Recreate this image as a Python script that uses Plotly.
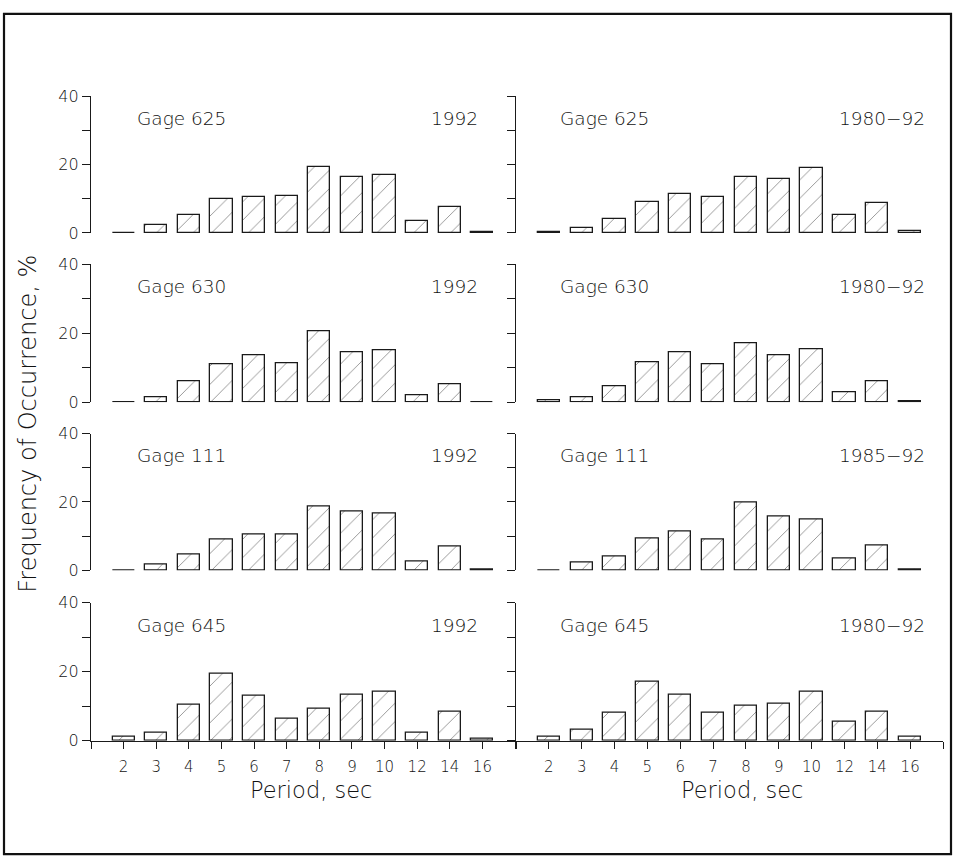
import plotly.graph_objects as go

# ---------------- data ----------------
periods = ['2', '3', '4', '5', '6', '7', '8', '9', '10', '12', '14', '16']
gages = ['Gage 625', 'Gage 630', 'Gage 111', 'Gage 645']
years_left = ['1992', '1992', '1992', '1992']
years_right = ['1980\u221292', '1980\u221292', '1985\u221292', '1980\u221292']

g625_1992 = [0.1, 2.2, 5.2, 9.8, 10.6, 10.7, 19.4, 16.2, 16.8, 3.6, 7.5, 0.3]
g625_8092 = [0.2, 1.5, 4.2, 9.0, 11.4, 10.4, 16.2, 15.9, 19.0, 5.1, 8.7, 0.6]
g630_1992 = [0.1, 1.3, 6.2, 11.0, 13.5, 11.4, 20.6, 14.6, 15.0, 2.1, 5.1, 0.05]
g630_8092 = [0.6, 1.4, 4.6, 11.5, 14.5, 11.1, 17.0, 13.7, 15.4, 2.9, 6.0, 0.2]
g111_1992 = [0.1, 1.6, 4.8, 8.9, 10.4, 10.6, 18.8, 17.2, 16.7, 2.6, 7.0, 0.2]
g111_8592 = [0.1, 2.2, 4.0, 9.2, 11.3, 8.9, 19.8, 15.8, 15.0, 3.4, 7.4, 0.2]
g645_1992 = [1.1, 2.3, 10.4, 19.5, 12.9, 6.4, 9.4, 13.3, 14.1, 2.3, 8.5, 0.6]
g645_8092 = [1.0, 3.1, 8.0, 17.2, 13.2, 8.0, 10.1, 10.7, 14.3, 5.5, 8.4, 1.0]

panels = [
    [g625_1992, g625_8092],
    [g630_1992, g630_8092],
    [g111_1992, g111_8592],
    [g645_1992, g645_8092],
]

yticks = [0, 10, 20, 30, 40]
ytext = ['0', '', '20', '', '40']

# ---------------- layout helpers ----------------
W, H = 953, 868
FONT = 'DejaVu Sans'
WEIGHT = 200
INK = '#1a1a1a'
TXT = '#111111'


def px_x(x):
    return x / W


def px_y(y):
    return 1 - y / H


def fnt(size):
    return dict(size=size, family=FONT, color=TXT, weight=WEIGHT)


rows_px = [(89, 229), (261, 402), (434, 574), (607, 748)]
cols_px = [(91, 515), (516, 943)]
idx = list(range(len(periods)))

fig = go.Figure()
layout = dict(
    width=W, height=H,
    margin=dict(l=0, r=0, t=0, b=0),
    paper_bgcolor='white', plot_bgcolor='white',
    showlegend=False,
    font=fnt(15),
    bargap=0,
)
annotations = []

for r in range(4):
    for c in range(2):
        n = r * 2 + c + 1
        xa = 'x' if n == 1 else f'x{n}'
        ya = 'y' if n == 1 else f'y{n}'
        fig.add_trace(go.Bar(
            x=idx, y=panels[r][c], xaxis=xa, yaxis=ya, width=0.68,
            marker=dict(
                color='white',
                line=dict(color=INK, width=1.3),
                pattern=dict(shape='/', fgcolor='#222222', bgcolor='white',
                             size=13, solidity=0.07),
            ),
            hoverinfo='skip',
        ))
        bottom = (r == 3)
        xkey = 'xaxis' if n == 1 else f'xaxis{n}'
        ykey = 'yaxis' if n == 1 else f'yaxis{n}'
        layout[xkey] = dict(
            domain=[px_x(cols_px[c][0]), px_x(cols_px[c][1])],
            anchor=ya, range=[-1, 12],
            showgrid=False, zeroline=False,
            showline=bottom, linecolor=INK, linewidth=1.2,
            ticks='outside' if bottom else '', ticklen=7, tickwidth=1.0,
            tickcolor=INK,
            tickvals=list(range(-1, 13)),
            ticktext=[''] + periods + [''],
            showticklabels=bottom,
            tickfont=fnt(15),
            ticklabelstandoff=5,
        )
        layout[ykey] = dict(
            domain=[px_y(rows_px[r][1]), px_y(rows_px[r][0])],
            anchor=xa, range=[0, 40],
            showgrid=False, zeroline=False,
            showline=True, linecolor=INK, linewidth=1.2,
            ticks='outside', ticklen=8, tickwidth=1.0, tickcolor=INK,
            tickvals=yticks, ticktext=ytext,
            showticklabels=(c == 0),
            tickfont=fnt(16),
        )
        # panel labels
        annotations.append(dict(
            text=gages[r], xref=f'{xa} domain', yref=ya,
            x=0.104 if c == 0 else 0.098, y=33.5,
            xanchor='left', yanchor='middle', showarrow=False,
            font=fnt(18.5),
        ))
        annotations.append(dict(
            text=years_left[r] if c == 0 else years_right[r],
            xref=f'{xa} domain', yref=ya,
            x=0.917 if c == 0 else 0.962, y=33.5,
            xanchor='right', yanchor='middle', showarrow=False,
            font=fnt(18.5),
        ))

# axis titles
annotations.append(dict(
    text='Frequency of Occurrence, %', xref='paper', yref='paper',
    x=px_x(28), y=px_y(424), textangle=-90,
    xanchor='center', yanchor='middle', showarrow=False,
    font=fnt(24),
))
for cx in (311, 742):
    annotations.append(dict(
        text='Period, sec', xref='paper', yref='paper',
        x=px_x(cx), y=px_y(798),
        xanchor='center', yanchor='middle', showarrow=False,
        font=fnt(22.5),
    ))

layout['annotations'] = annotations
layout['shapes'] = [dict(
    type='rect', xref='paper', yref='paper',
    x0=px_x(4), x1=px_x(951), y0=px_y(864), y1=px_y(5),
    line=dict(color='#111111', width=2.2), fillcolor='rgba(0,0,0,0)',
)]

fig.update_layout(**layout)

page_fix = (
    "document.documentElement.style.margin='0';"
    "document.documentElement.style.padding='0';"
    "document.documentElement.style.overflow='hidden';"
    "document.body.style.margin='0';"
    "document.body.style.padding='0';"
    "document.body.style.overflow='hidden';"
    "var gd=document.getElementsByClassName('plotly-graph-div')[0];"
    "if(gd){gd.style.position='absolute';gd.style.top='0';gd.style.left='0';}"
)
fig.write_html('out.html', config={'displayModeBar': False}, post_script=page_fix)
